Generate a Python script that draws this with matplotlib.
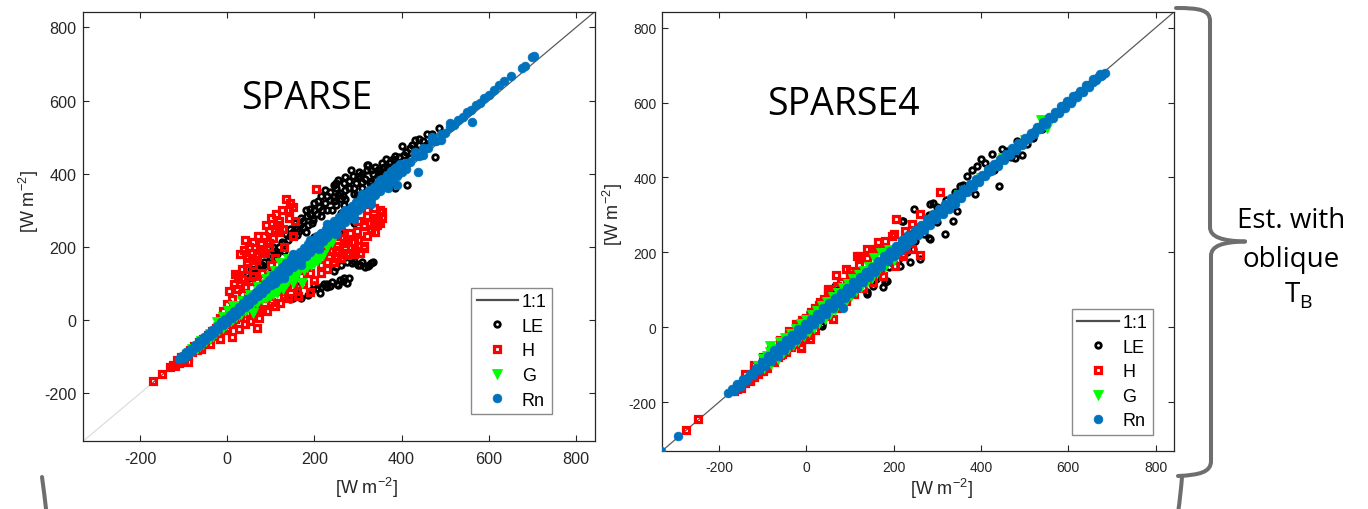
import matplotlib
matplotlib.use("Agg")
import matplotlib.pyplot as plt
from matplotlib.lines import Line2D
from matplotlib.path import Path
from matplotlib.patches import PathPatch

plt.rcParams['font.family'] = ['Liberation Sans', 'DejaVu Sans']
plt.rcParams['mathtext.fontset'] = 'custom'
plt.rcParams['mathtext.rm'] = 'Liberation Sans'
plt.rcParams['axes.unicode_minus'] = False

# ---------------- data ----------------
axis_lim = [-330, 843]
tick_vals = [-200, 0, 200, 400, 600, 800]
series_names = ['LE', 'H', 'G', 'Rn']
panel_titles = ['SPARSE', 'SPARSE4']
unit_label = r'[W m$^{\mathregular{-2}}$]'
note_lines = ['Est. with', 'oblique', 'T']
note_sub = 'B'

# ---- SPARSE (left) ----
sparse_le = [(322,424),(302,406),(288,393),(309,379),(255,384),(244,370),(225,356),(271,356),
             (209,327),(236,329),(255,343),(267,316),(217,302),(182,284),(198,275),(167,261),
             (144,248),(160,234),(140,220),(114,180),(98,166),(91,139),(69,143),(45,123),(68,121),
             (297,343),(328,375),(351,402),(366,416),(389,429),(485,524),(458,509),(431,492),
             (439,479),(401,476),(405,452),(374,433),(359,420),(320,424),(267,375),(259,347),
             (244,338),(230,340),(250,360),(280,380),(300,390),(260,330),(290,360),(310,400),
             (330,410),(340,420),(200,300),(190,290),(175,270),(210,310),(120,200),(130,210),
             (150,240),(185,260),(160,250),(130,190),(100,170),(80,150),(240,300),(345,395),
             (380,440),(420,470),(450,490),(470,500),(412,370),(386,361),(477,447),
             (215,340),(225,320),(235,350),(245,325),(250,375),(265,340),(270,390),(280,360),
             (285,410),(295,375),(305,395),(315,385),(320,410),(335,400),(345,410),(355,430),
             (365,440),(375,420),(385,450),(395,445),(410,460),(425,480),(440,495),(455,480),
             (470,510),(190,305),(200,320),(205,290),(180,300),(170,280),(155,265),(165,245),
             (175,255),(145,230),(135,235),(125,215),(110,190),(105,200),(95,180),(85,160),
             (75,150),(60,130),(55,140),(50,115),(180,240),(195,265),(215,285),(230,300),
             (250,315),(270,330),(290,345),(310,360),(330,380),(350,395),(370,405),(390,415),
             (286,157),(305,152),(322,148),(244,134),(267,116),(274,103),(251,98),(236,93),
             (221,98),(206,89),(213,75),(144,57),(160,93),(290,266),(267,239),(300,150),(315,145),
             (330,155),(258,110),(228,100),(200,95),(250,145),(260,150),(275,160),(290,162),
             (310,158),(325,152),(335,160),(230,90),(240,105),(255,95),(265,108),(280,115),
             (215,90),(195,82),(185,70),(170,62),(150,60),(160,72),
             (20,28),(40,48),(60,72),(80,92),(100,116),(150,172),(200,228),(260,292),(300,330),
             (340,362),(380,402),(420,444),(460,482)]
sparse_h = [(-170,-165),(-150,-148),(-130,-128),(-125,-122),(-120,-124),(-115,-110),(-110,-116),
            (-105,-100),(-100,-106),(-95,-92),(-90,-98),(-89,-115),(-85,-80),(-80,-88),(-75,-70),
            (-70,-80),(-65,-60),(-60,-72),(-59,-79),(-55,-52),(-50,-62),(-45,-40),(-40,-65),
            (-40,-52),(-35,-30),(-30,-44),(-25,-22),(-20,-36),(-17,-52),(-15,-12),(-10,-28),
            (-5,-2),(0,-20),(5,8),(10,-47),(10,-10),(18,2),(28,-23),(41,-11),(52,-2),(68,-20),
            (74,7),(91,25),(121,48),(163,66),(190,77),(160,80),(140,60),(110,40),(100,50),(80,30),
            (60,20),(130,70),(150,90),(175,100),(200,110),(215,128),(230,140),(175,148),(198,175),
            (236,189),(251,202),(190,130),(170,120),(150,110),(130,90),(120,80),(90,60),(70,40),
            (50,20),(30,10),(10,-5),
            (204,358),(143,320),(141,302),(112,291),(141,279),(156,270),(114,261),(129,249),
            (97,243),(85,229),(106,225),(41,218),(77,207),(38,193),(56,184),(79,189),(87,184),
            (48,171),(68,175),(18,127),(33,112),(52,107),(69,107),(22,84),(33,71),(10,57),(-1,44),
            (-9,25),(-17,7),(60,150),(45,140),(30,100),(95,200),(120,240),
            (100,280),(125,300),(135,330),(150,310),(90,260),(110,250),(120,270),(70,230),(60,215),
            (50,200),(30,180),(45,160),(65,165),(75,195),(95,210),(35,140),(25,120),(15,100),
            (5,80),(40,90),(60,120),(80,130),(100,150),(110,170),(130,200),(150,230),
            (234,175),(251,171),(274,177),(290,182),(313,204),(275,220),(255,193),(282,239),
            (297,243),(313,261),(328,266),(344,261),(347,279),(351,302),(336,307),(355,297),
            (351,266),(336,261),(313,257),(313,198),(294,189),(267,211),(251,229),(263,180),
            (240,190),(220,180),(230,205),(260,240),(300,270),(320,285),(300,220),(320,230),
            (330,250),(340,280),(320,300),(290,215),(270,200),(280,185),(305,185),(260,170),
            (245,160),(230,160),(215,150),(340,240),(355,280)]
sparse_g = [(-92,-95),(-85,-90),(-78,-84),(-70,-78),(-62,-70),(-55,-64),(-48,-58),(-40,-50),
            (-32,-42),(-25,-34),(-18,-28),(-10,-20),(-3,-12),(2,-6),(8,-2),(14,3),(20,8),(26,14),
            (32,18),(40,25),(46,30),(52,36),(60,21),(60,44),(68,48),(74,54),(80,58),(86,62),(92,64),
            (98,66),(104,72),(110,80),(114,75),(120,90),(129,84),(134,98),(140,106),(146,112),
            (152,118),(158,124),(163,130),(171,103),(176,138),(184,146),(192,152),(200,156),
            (205,161),(212,170),(220,178),(152,103),
            (0,0),(10,10),(20,18),(30,26),(40,35),(50,44),(60,52),(70,60),(80,68),(90,76),(100,84),
            (110,92),(120,100),(130,110),(140,118),(150,128),(160,138),(170,146),(180,154),
            (190,164),(200,170),(-20,-18),(-40,-38),(-60,-58),(-80,-78),(30,40),(50,60),(70,80),
            (90,100),(100,120),(130,140),(150,150),(170,165),(190,180),(210,190),(230,200),
            (240,215),
            (-24,-6),(-10,8),(2,24),(14,38),(33,53),(52,70),(70,90),(90,112),(110,135),(121,155),
            (140,168)]
sparse_rn = [(-110,-107),(-104,-98),(-100,-104),(-94,-88),(-90,-94),(-84,-78),(-80,-84),(-74,-68),
             (-70,-74),(-64,-58),(-60,-64),(-54,-47),(-50,-54),(-44,-37),(-40,-44),(-34,-27),
             (-30,-34),(-24,-16),(-20,-24),(-14,-6),(-10,-14),(-4,4),(0,-4),(6,15),(10,5),(16,25),
             (20,15),(26,36),(30,25),(36,46),(40,35),(46,57),(50,45),(56,67),(60,55),(66,78),(70,65),
             (76,88),(80,75),(86,99),(90,85),(96,110),(100,95),
             (106,124),(110,103),(116,134),(120,114),(126,145),(130,124),(136,155),(140,134),
             (146,166),(150,145),(156,176),(160,155),(166,187),(170,165),(176,197),(180,175),
             (186,208),(190,186),(196,218),(200,196),(206,229),(210,206),(216,239),(220,217),
             (226,250),(230,227),(236,260),(240,238),(246,271),(250,248),(256,281),(260,259),
             (266,292),(270,269),(276,302),(280,280),(286,313),(290,290),(296,323),(300,301),
             (306,334),(310,311),(316,344),(320,322),(326,355),(330,332),(336,365),(340,343),
             (346,376),(350,353),(356,386),(360,364),(366,397),(370,374),(376,407),(380,385),
             (386,417),(390,395),(396,428),(400,406),
             (105,113),(115,123),(125,133),(135,143),(145,153),(155,163),(165,173),(175,183),
             (185,193),(195,203),(205,213),(215,223),(225,233),(235,243),(245,253),(255,263),
             (265,273),(275,283),(285,293),(295,303),(305,313),(315,323),(325,333),(335,343),
             (345,353),(355,363),(365,373),(375,383),(385,393),(395,403),
             (150,180),(190,220),(230,262),(270,302),(310,345),(350,382),(390,420),(430,460),
             (470,500),(510,540),(130,115),(170,152),(210,195),(250,235),(290,276),(330,318),
             (370,360),(410,412),(450,452),(490,492),
             (120,124),(160,166),(200,207),(240,249),(280,291),(320,333),(360,375),(400,416),
             (410,430),(420,432),(430,450),(440,450),(450,470),(460,470),(470,490),(480,490),
             (490,510),(500,512),(510,528),(520,534),(530,548),(540,554),(550,568),(560,574),
             (570,588),(580,594),(590,606),(600,616),(612,628),(624,642),(636,654),(650,668),
             (677,690),(682,694),(700,718),(704,722),(437,406),(389,370),(562,542)]

# ---- SPARSE4 (right) ----
sparse4_le = [(401,449),(426,462),(449,475),(483,498),(495,459),(479,453),(506,489),(368,404),
              (391,431),(441,378),(387,355),(353,378),(345,311),(337,284),(318,249),(284,235),
              (291,333),(247,315),(222,284),(314,320),(284,329),(219,284),(282,237),(261,182),
              (238,173),(245,209),(215,164),(184,124),(176,107),(138,89),(31,35),(8,40),(65,111),
              (35,4),(15,40),(35,9),(153,111),(180,120),(138,93),(61,102),
              (200,190),(220,230),(240,250),(260,270),(280,300),(300,320),(320,340),(340,360),
              (360,380),(380,420),(410,440),(430,420),(460,470),(470,455),(520,505),(540,530),
              (560,560),(300,280),(270,250),(250,230),(230,200),(210,180),(190,160),(170,150),
              (160,130),(120,110),(100,90),(80,70),(60,55),(40,30),(20,10),(0,0),(-20,-20),
              (50,70),(110,140),(130,120),(150,135),
              (100,110),(150,150),(200,205),(250,250),(300,300),(350,345),(400,400),(450,455),
              (500,500),(550,550),(600,600),(650,650)]
sparse4_h = [(-275,-274),(-248,-245),(-160,-166),(-150,-162),(-140,-150),(-130,-144),(-120,-132),
             (-110,-124),(-100,-116),(-90,-108),(-77,-89),(-73,-93),(-64,-80),(-56,-72),(-46,-67),
             (-46,-58),(-36,-52),(-26,-44),(-13,-55),(-12,-53),(-4,-30),(8,-22),(8,-31),(20,-8),
             (61,22),(50,30),(70,50),(90,70),(110,88),(130,104),(153,120),(176,138),(203,164),
             (222,191),(222,195),(242,209),(261,193),
             (-23,9),(-10,20),(10,40),(31,67),(50,93),(50,102),(67,139),(92,155),(115,191),
             (123,191),(138,209),(165,228),(173,209),(184,195),(196,243),(205,289),(226,258),
             (242,275),(261,302),(307,360),(30,60),(70,110),(100,150),(150,200),(-40,-10),
             (-60,-35),(-80,-60),(-100,-80),(-120,-100),(-140,-125),
             (0,25),(20,50),(40,75),(60,95),(80,120),(100,140),(120,165),(140,185),(160,210),
             (180,230),(200,250),(-20,0),(-40,-20),(-60,-45),(-80,-70),(-100,-95),(-120,-115),
             (-140,-140),(-160,-160),(110,120),(130,150),(90,105),(60,70),(40,45),(20,15),(0,-10),
             (-20,-35),(-40,-45),(-60,-75),(-90,-100),(-110,-120),(-130,-140),(-150,-155),
             (-165,-170)]
sparse4_g = [(-110,-104),(-100,-86),(-96,-110),(-90,-76),(-84,-49),(-84,-67),(-80,-98),(-72,-58),
             (-66,-84),(-60,-40),(-54,-70),(-48,-30),(-42,-58),(-36,-18),(-30,-48),(-24,-6),
             (-18,-36),(-12,8),(-6,-24),(0,20),(6,-14),(12,32),(18,-2),(24,44),(30,10),(36,56),
             (42,22),(48,68),(54,34),(60,80),(66,46),(72,92),(78,58),(84,104),(90,70),(96,116),
             (102,84),(108,128),(114,96),(120,140),(126,108),(132,150),(138,120),(144,162),
             (150,132),(156,184),(162,144),(170,198),(180,160),(190,206),(200,180),(537,553),
             (551,533),
             (-100,-100),(-80,-80),(-60,-60),(-40,-40),(-20,-20),(0,0),(20,20),(40,40),(60,60),
             (80,80),(100,100),(120,120),(140,140),(160,160),(180,180),(200,200),(220,215),
             (240,240),(260,258),(300,300),(350,352),(400,398),(450,452),(500,500)]
sparse4_rn = [(-332,-330),(-294,-291),(-180,-176),(-170,-166),(-165,-170),(-158,-152),(-150,-156),
              (-144,-138),(-136,-142),(-130,-124),(-122,-128),(-116,-110),(-108,-114),(-102,-92),
              (-94,-104),(-88,-76),(-80,-90),(-74,-62),(-66,-76),(-60,-48),(-52,-62),(-46,-34),
              (-38,-48),(-32,-20),(-24,-34),(-18,-6),(-10,-20),(-4,8),(4,-6),(10,22),(18,8),(24,36),
              (32,22),(38,50),(46,36),(52,64),(60,50),(66,78),(74,64),(80,92),(88,78),(94,106),
              (102,92),(108,120),(116,106),(122,134),(130,120),(136,148),(144,134),(150,162),
              (158,148),(164,176),(172,162),(178,190),(186,176),(192,204),(200,190),(206,218),
              (214,204),(220,232),(228,218),(234,246),(242,232),(248,260),(256,246),(262,274),
              (270,260),(276,288),(284,274),(290,302),(298,288),(304,316),(312,302),(318,330),
              (326,316),(332,344),(340,330),(346,356),(354,346),(360,368),(368,360),(374,382),
              (382,374),(388,396),(396,388),(402,408),(410,404),(416,422),(424,418),(430,436),
              (438,432),(444,450),(452,446),(458,464),(466,460),(472,478),(480,474),(486,492),
              (494,488),(500,506),(508,502),(514,520),(522,516),(528,534),(536,530),(542,548),
              (550,544),(556,562),(564,558),(570,576),(578,572),(584,590),(592,586),(598,604),
              (606,600),(612,618),(620,614),(626,632),(634,628),(640,646),(648,642),(656,662),
              (664,660),(672,676),(678,674),(684,680),(675,671),(84,51),
              (-160,-160),(-148,-148),(-136,-136),(-124,-124),(-112,-112),(-100,-100),(-88,-88),
              (-76,-76),(-64,-64),(-52,-52),(-40,-40),(-28,-28),(-16,-16),(-4,-4),(8,8),(20,20),
              (32,32),(44,44),(56,56),(68,68),(80,80),(92,92),(104,104),(116,116),(128,128),
              (140,140),(152,152),(164,164),(176,176),(188,188),(200,200),(212,212),(224,224),
              (236,236),(248,248),(260,260),(272,272),(284,284),(296,296),(308,308),(320,320),
              (332,332),(344,344),(356,356),(368,368),(380,380),(392,392),(404,404),(416,416),
              (428,428),(440,440),(452,452),(464,464),(476,476),(488,488),(500,500),(512,512),
              (524,524),(536,536),(548,548),(560,560),(572,572),(584,584),(596,596),(608,608),
              (620,620),(632,632),(644,644),(656,656),(668,668)]

panels = [
    dict(title=panel_titles[0], data=[sparse_le, sparse_h, sparse_g, sparse_rn]),
    dict(title=panel_titles[1], data=[sparse4_le, sparse4_h, sparse4_g, sparse4_rn]),
]

# ---------------- styles / layout ----------------
W, H = 1368, 510
fig = plt.figure(figsize=(W / 100, H / 100), dpi=100)

def fr(x, y):
    return (x / W, 1 - y / H)

axes_px = [(83.3, 12.7, 594.7, 442.0), (662.3, 12.7, 1174.3, 451.7)]
tick_fs = [11.6, 10.0]
title_pos = [(0.308, 0.775), (0.204, 0.767)]
xlab_pos = [(0.553, -0.107), (0.546, -0.085)]
ylab_pos = [(-0.106, 0.561), (-0.096, 0.539)]
leg_anchor = [(0.9165, 0.063), (0.958, 0.036)]
tick_pad = [(7, 5), (6.5, 4)]

styles = [
    dict(marker='o', ms=4.0, mfc='none', mec='black', mew=2.0, zorder=3),
    dict(marker='s', ms=4.2, mfc='none', mec='#ff0000', mew=2.3, zorder=4),
    dict(marker='v', ms=6.8, mfc='#00ff00', mec='#00ff00', mew=0.6, zorder=5),
    dict(marker='o', ms=6.4, mfc='#0072bd', mec='#0072bd', mew=0.4, zorder=6),
]
dark = '#262626'

for i, p in enumerate(panels):
    x0, y0, x1, y1 = axes_px[i]
    ax = fig.add_axes([x0 / W, 1 - y1 / H, (x1 - x0) / W, (y1 - y0) / H])
    ax.set_xlim(axis_lim)
    ax.set_ylim(axis_lim)

    # 1:1 line
    if i == 0:
        dmin = min(min(x for x, _ in s) for s in p['data'])
        ax.plot([axis_lim[0], dmin], [axis_lim[0], dmin], color='#dadada', lw=0.8, zorder=1)
        ax.plot([dmin, axis_lim[1]], [dmin, axis_lim[1]], color='#5a5a5a', lw=0.9, zorder=1)
    else:
        ax.plot(axis_lim, axis_lim, color='#5a5a5a', lw=0.9, zorder=1)

    handles = [Line2D([], [], color='#4d4d4d', lw=1.6)]
    for s, st in zip(p['data'], styles):
        xs = [a for a, _ in s]
        ys = [b for _, b in s]
        h, = ax.plot(xs, ys, linestyle='none', **st)
        handles.append(h)

    ax.set_xticks(tick_vals)
    ax.set_yticks(tick_vals)
    ax.tick_params(direction='in', length=4, width=0.8, top=True, right=True,
                   labelsize=tick_fs[i], colors=dark)
    ax.tick_params(axis='x', pad=tick_pad[i][0])
    ax.tick_params(axis='y', pad=tick_pad[i][1])
    for sp in ax.spines.values():
        sp.set_color(dark)
        sp.set_linewidth(0.9)

    ax.set_xlabel(unit_label, fontsize=13, color=dark)
    ax.set_ylabel(unit_label, fontsize=13, color=dark)
    ax.xaxis.label.set_va('center')
    ax.yaxis.label.set_va('center')
    ax.xaxis.set_label_coords(*xlab_pos[i])
    ax.yaxis.set_label_coords(*ylab_pos[i])

    ax.text(title_pos[i][0], title_pos[i][1], p['title'], transform=ax.transAxes,
            ha='left', va='baseline', fontsize=27, family='Open Sans', color='black')

    leg = ax.legend(handles, ['1:1'] + series_names, loc='lower right',
                    bbox_to_anchor=leg_anchor[i], borderaxespad=0, fontsize=13,
                    handlelength=2.3, handletextpad=0.2, labelspacing=0.42,
                    borderpad=0.3, fancybox=False, framealpha=1, numpoints=1)
    leg.get_frame().set_edgecolor('#8a8a8a')
    leg.get_frame().set_linewidth(1.0)
    leg.set_zorder(10)

# ---------------- brace and note ----------------
def path_patch(verts, codes):
    pts = [fr(x, y) for x, y in verts]
    pp = PathPatch(Path(pts, codes), transform=fig.transFigure, fill=False,
                   edgecolor='#6e6e6e', lw=2.9, capstyle='round', joinstyle='round',
                   clip_on=False)
    fig.add_artist(pp)

M, L, C = Path.MOVETO, Path.LINETO, Path.CURVE4
path_patch([(1176, 9), (1200, 9), (1210, 11), (1210, 22), (1210, 228),
            (1210, 238), (1222, 242), (1245, 242.5)],
           [M, C, C, C, L, C, C, C])
path_patch([(1245, 242.5), (1222, 243), (1211, 247), (1211, 257), (1211, 462),
            (1211, 473), (1200, 476), (1178, 477)],
           [M, C, C, C, L, C, C, C])
path_patch([(1182, 478), (1181, 490), (1180, 500), (1178, 514)], [M, C, C, C])
path_patch([(42, 478), (43.5, 490), (45, 500), (46.5, 514)], [M, C, C, C])

note_fs = 20
fig.text(*fr(1291, 227.7), note_lines[0], ha='center', va='baseline', fontsize=note_fs,
         family='Open Sans', color='black')
fig.text(*fr(1291, 266.7), note_lines[1], ha='center', va='baseline', fontsize=note_fs,
         family='Open Sans', color='black')
fig.text(*fr(1300, 301.7), note_lines[2], ha='right', va='baseline', fontsize=note_fs,
         family='Open Sans', color='black')
fig.text(*fr(1299.5, 308.5), note_sub, ha='left', va='baseline', fontsize=14,
         family='Open Sans', color='black')

fig.savefig('out.png', dpi=100)
